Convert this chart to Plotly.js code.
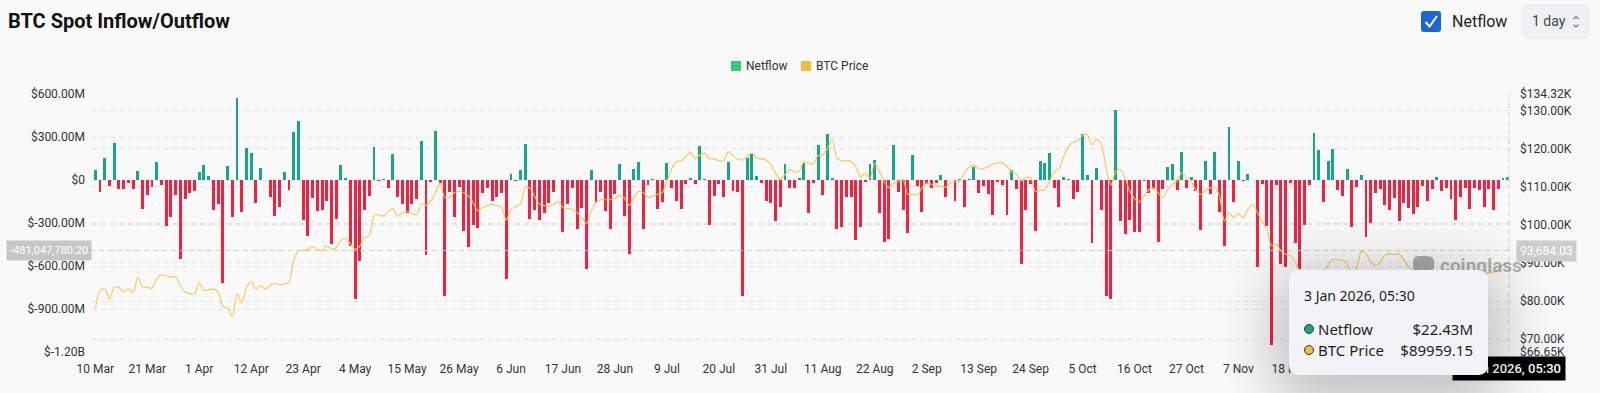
<!DOCTYPE html>
<html>
<head>
<meta charset="utf-8">
<script src="https://cdn.plot.ly/plotly-3.0.1.min.js"></script>
<style>
html,body{margin:0;padding:0;background:#f9f9f9;width:1600px;height:393px;overflow:hidden;}
#chart{position:absolute;left:0;top:0;width:1600px;height:393px;}
#tip{position:absolute;left:1289px;top:270px;width:199px;height:105px;background:#f2f3f6;border-radius:9px;
 box-shadow:0 14px 60px 14px rgba(0,0,0,0.24);font-family:"Noto Sans",Roboto,sans-serif;color:#1e1e1e;z-index:5;}
#tip .date{position:absolute;left:15px;top:17px;font-size:14px;line-height:18px;}
#tip .row{position:absolute;left:15px;right:15px;height:20px;font-size:15px;line-height:20px;}
#tip .dot{position:absolute;left:0;top:5px;width:8px;height:8px;border-radius:50%;border:1.5px solid #333;}
#tip .lab{position:absolute;left:14px;top:0;}
#tip .val{position:absolute;right:0;top:0;}
</style>
</head>
<body>
<div id="chart"></div>
<div id="tip">
  <div class="date" id="tipDate"></div>
  <div class="row" style="top:49px"><span class="dot" id="dot1"></span><span class="lab" id="lab1"></span><span class="val" id="val1"></span></div>
  <div class="row" style="top:70px"><span class="dot" id="dot2"></span><span class="lab" id="lab2"></span><span class="val" id="val2"></span></div>
</div>
<script>
// ---------------- DATA ----------------
const startDate = [2025, 2, 10];           // 10 Mar 2025, one bar per day
const seriesNames = ['Netflow', 'BTC Price'];

// Daily netflow, $M
const netflowM = [
  69, -83, 155, -42, 259, -65, -60, -19, -60, 60,
  -204, -102, -46, 125, -32, -324, -255, -106, -553, -130,
  -88, -74, 58, 104, 25, -211, -167, -720, 97, -257,
  572, -225, 225, 190, -162, 86, 3, -116, -250, -188,
  58, -72, 336, 410, -278, -389, -127, -215, -208, -146,
  -449, -269, 104, 14, -458, -833, -563, -210, -111, 229,
  -9, 5, -58, 183, -116, -164, -229, -164, -130, 271,
  -523, -16, 340, -19, -808, -83, -255, -46, -357, -465,
  -313, -336, -88, -58, -146, -116, -90, -690, 44, -5,
  69, 252, -271, -208, -278, -229, -157, -81, -3, -366,
  -164, -58, -343, -197, -620, 72, -162, -81, -215, -343,
  -100, 111, -250, -519, 79, 123, -343, -37, 5, -199,
  -150, 118, -58, -144, -204, -28, 16, -25, 236, 9,
  -315, -109, -30, -116, 125, -79, -86, -810, 155, 190,
  28, -19, -148, -162, -287, -185, 113, -53, -53, 12,
  120, -227, -21, 241, -106, 324, 12, -345, -326, -116,
  -120, -417, -331, -14, 111, 139, -227, -435, -412, 245,
  -83, -211, -368, 176, -42, -222, -30, -58, -23, 37,
  -116, -3, -144, 9, -185, 9, 93, -93, -42, -95,
  -243, -14, -32, -245, 69, -60, -586, -211, -30, -354,
  134, 118, 185, -53, -188, 23, 9, -130, -83, 324,
  37, -442, 86, -208, -806, -829, 486, -285, -377, -280,
  -363, -363, -5, -88, -60, -435, -65, 90, 113, -72,
  194, -58, 23, -79, -347, 130, -95, 194, -220, -458,
  368, -150, 134, -9, 42, 2, -609, -30, -319, -1153,
  -37, -586, -609, -19, -440, -620, -313, -37, 329, 208,
  -150, 132, 218, -69, -113, 74, -331, -46, 35, -400,
  -303, -88, -60, -176, -208, -125, -287, -162, -194, -238,
  -188, -42, -146, -65, 21, -74, -53, -134, -280, -116,
  -53, -204, -58, -72, -188, -65, -208, -65, 14, 22.43
];

// Daily BTC price, $K
const priceK = [
  78.0, 82.8, 83.2, 80.6, 83.6, 83.6, 82.4, 83.2, 82.3, 86.3,
  83.8, 83.6, 83.4, 85.8, 86.9, 86.6, 86.3, 86.3, 84.1, 82.4,
  81.9, 81.9, 84.8, 82.8, 83.0, 83.2, 82.4, 78.5, 78.3, 75.9,
  81.9, 79.5, 83.6, 85.2, 83.2, 84.1, 83.2, 84.1, 84.7, 84.3,
  84.5, 85.0, 90.6, 93.2, 93.3, 93.6, 94.2, 93.6, 93.2, 94.5,
  93.6, 94.0, 96.0, 96.3, 95.0, 93.6, 94.5, 96.7, 97.1, 102.3,
  102.7, 102.3, 103.6, 104.2, 102.3, 103.2, 103.5, 103.0, 102.6, 105.5,
  105.1, 106.2, 108.4, 111.0, 107.1, 107.2, 108.4, 108.8, 108.4, 107.5,
  105.8, 103.6, 104.5, 105.1, 105.3, 105.1, 104.6, 101.2, 104.0, 104.8,
  105.5, 109.7, 109.7, 107.5, 105.5, 105.1, 104.8, 105.3, 106.2, 104.5,
  104.3, 104.0, 103.2, 101.9, 100.3, 103.6, 106.0, 106.6, 106.6, 106.6,
  106.9, 107.7, 107.1, 105.1, 107.1, 108.8, 108.4, 107.2, 107.5, 108.0,
  108.4, 111.4, 114.7, 116.6, 116.8, 117.9, 119.0, 117.3, 118.3, 118.8,
  117.4, 117.3, 116.8, 116.8, 119.2, 118.1, 117.3, 117.0, 117.9, 118.8,
  117.6, 117.3, 117.0, 115.8, 113.5, 111.9, 113.2, 114.5, 113.9, 114.0,
  116.6, 116.2, 115.9, 118.2, 118.3, 120.1, 122.5, 117.5, 116.8, 116.8,
  116.6, 115.3, 112.5, 113.6, 112.3, 116.2, 114.0, 111.4, 109.7, 111.0,
  111.4, 111.9, 108.0, 108.0, 107.8, 109.7, 111.0, 110.6, 110.1, 110.1,
  109.9, 111.0, 111.4, 111.4, 113.6, 115.1, 115.6, 114.7, 114.7, 115.3,
  115.9, 116.2, 116.3, 115.3, 114.0, 113.3, 111.6, 112.3, 112.4, 108.8,
  109.0, 109.2, 111.4, 114.0, 114.7, 117.9, 120.5, 121.7, 122.0, 123.5,
  123.7, 121.0, 122.5, 121.0, 114.9, 110.4, 114.0, 114.5, 112.3, 108.8,
  106.9, 106.0, 107.5, 109.2, 109.7, 108.4, 107.1, 109.2, 110.7, 111.4,
  113.8, 112.4, 111.4, 109.2, 108.0, 109.0, 109.7, 109.9, 107.5, 101.0,
  103.2, 101.9, 102.9, 101.9, 104.0, 105.4, 103.2, 101.0, 98.9, 94.5,
  94.9, 93.2, 92.3, 92.0, 90.3, 87.6, 85.0, 84.5, 84.8, 86.5,
  87.6, 89.5, 90.9, 90.8, 90.7, 89.8, 86.8, 88.6, 93.0, 92.4,
  90.3, 89.4, 90.3, 92.0, 92.4, 92.2, 92.4, 90.8, 89.0, 88.0,
  86.5, 86.0, 87.0, 86.3, 85.5, 87.8, 88.0, 87.6, 87.2, 87.0,
  87.3, 87.0, 87.2, 87.4, 87.1, 87.4, 87.6, 88.4, 89.6, 89.95915
];

const leftTickVals  = [600, 300, 0, -300, -600, -900, -1200];
const leftTickText  = ['$600.00M', '$300.00M', '$0', '$-300.00M', '$-600.00M', '$-900.00M', '$-1.20B'];
const rightTickVals = [134.32, 130, 120, 110, 100, 90, 80, 70, 66.65];
const rightTickText = ['$134.32K', '$130.00K', '$120.00K', '$110.00K', '$100.00K', '$90.00K', '$80.00K', '$70.00K', '$66.65K'];
const pointerLeftText  = '-481,047,780.20';
const pointerRightText = '93,684.03';
const hoverTime = '05:30';

// ---------------- STYLE ----------------
const GREEN = '#17a68a', RED = '#f5203f', LINE = '#f8c650';
const LEG_GREEN = '#35c97c', LEG_AMBER = '#f1bb40';
const FONT = 'Roboto, "Noto Sans", sans-serif';
const W = 1600, H = 393, ML = 92, MR = 89, MT = 94, MB = 41;
const PW = W - ML - MR, PH = H - MT - MB;
const X = px => (px - ML) / PW;
const Y = py => (H - MB - py) / PH;

// ---------------- BUILD ----------------
const DAY = 864e5;
const t0 = Date.UTC(startDate[0], startDate[1], startDate[2]);
const dates = netflowM.map((_, i) => new Date(t0 + i * DAY).toISOString().slice(0, 10));
const fmt = ms => new Date(ms).toISOString().slice(0, 16).replace('T', ' ');
const xRange = [fmt(t0 - 0.7 * DAY), fmt(t0 + (netflowM.length - 1 + 0.7) * DAY)];

const bars = {
  type: 'bar', x: dates, y: netflowM, name: seriesNames[0],
  marker: { color: netflowM.map(v => v >= 0 ? GREEN : RED) },
  width: 0.62 * DAY, hoverinfo: 'skip', showlegend: false
};
const price = {
  type: 'scatter', mode: 'lines', x: dates, y: priceK, yaxis: 'y2', name: seriesNames[1],
  line: { color: LINE, width: 1.1, shape: 'spline', smoothing: 0.7 },
  hoverinfo: 'skip', showlegend: false
};

function rrect(x0, y0, x1, y1, r) {
  const rx = r / PW, ry = r / PH;
  const a = X(x0), b = X(x1), c = Y(y0), d = Y(y1);
  return `M${a + rx},${c} L${b - rx},${c} Q${b},${c} ${b},${c - ry} L${b},${d + ry} Q${b},${d} ${b - rx},${d} ` +
         `L${a + rx},${d} Q${a},${d} ${a},${d + ry} L${a},${c - ry} Q${a},${c} ${a + rx},${c} Z`;
}
function poly(pts) { return 'M' + pts.map(p => X(p[0]) + ',' + Y(p[1])).join(' L'); }

const grid = { gridcolor: '#e1e1e1', griddash: '5px,4px', gridwidth: 1 };

const shapes = [
  // crosshair
  { type: 'line', xref: 'paper', yref: 'paper', x0: X(90), x1: X(1512), y0: Y(250.5), y1: Y(250.5),
    line: { color: '#cfcfcf', width: 1, dash: '5px,4px' } },
  { type: 'line', xref: 'paper', yref: 'paper', x0: X(1509), x1: X(1509), y0: Y(94), y1: Y(352),
    line: { color: '#cfcfcf', width: 1, dash: '5px,4px' } },
  // legend squares
  { type: 'rect', xref: 'paper', yref: 'paper', x0: X(731), x1: X(741), y0: Y(61), y1: Y(71), fillcolor: LEG_GREEN, line: { width: 0 } },
  { type: 'rect', xref: 'paper', yref: 'paper', x0: X(801), x1: X(811), y0: Y(61), y1: Y(71), fillcolor: LEG_AMBER, line: { width: 0 } },
  // checkbox
  { type: 'path', xref: 'paper', yref: 'paper', path: rrect(1421, 11, 1441, 32, 3), fillcolor: '#1867d3', line: { width: 0 } },
  { type: 'path', xref: 'paper', yref: 'paper', path: poly([[1425.5, 22], [1429.5, 26.5], [1437, 16]]), line: { color: '#ffffff', width: 2 } },
  // 1 day selector
  { type: 'path', xref: 'paper', yref: 'paper', path: rrect(1522, 5, 1589, 38, 6), fillcolor: '#eff0f2', line: { color: '#e7e8eb', width: 1 } },
  { type: 'path', xref: 'paper', yref: 'paper', path: poly([[1573.5, 19], [1576, 16.5], [1578.5, 19]]), line: { color: '#777', width: 1.1 } },
  { type: 'path', xref: 'paper', yref: 'paper', path: poly([[1573.5, 24.5], [1576, 27], [1578.5, 24.5]]), line: { color: '#777', width: 1.1 } },
  // watermark logo
  { type: 'path', xref: 'paper', yref: 'paper', path: rrect(1413, 256, 1434, 272, 6), fillcolor: 'rgba(120,120,120,0.6)', line: { width: 0 } }
];

const ann = (text, px, py, opts) => Object.assign({
  text, xref: 'paper', yref: 'paper', x: X(px), y: Y(py), showarrow: false,
  xanchor: 'left', yanchor: 'middle', font: { family: FONT, size: 12, color: '#333' }
}, opts || {});

const annotations = [
  ann(seriesNames[0], 744, 66),
  ann(seriesNames[1], 814, 66),
  ann('Netflow', 1450, 21.5, { font: { family: FONT, size: 16, color: '#222' } }),
  ann('1 day', 1530, 21.5, { font: { family: FONT, size: 14, color: '#444' } }),
  ann('coinglass', 1438, 265, { font: { family: FONT, size: 19, color: 'rgba(130,130,130,0.6)', weight: 700 } }),
  ann(pointerLeftText, 49, 250.5, { xanchor: 'center', bgcolor: '#c6c6c6', borderpad: 3,
    font: { family: FONT, size: 11, color: '#ffffff' } }),
  ann(pointerRightText, 1546, 250.5, { xanchor: 'center', bgcolor: '#cdcdcd', borderpad: 3,
    font: { family: FONT, size: 12, color: '#ffffff' } })
];

// bottom pointer label
const last = netflowM.length - 1;
const lastDate = new Date(t0 + last * DAY);
const months = ['Jan','Feb','Mar','Apr','May','Jun','Jul','Aug','Sep','Oct','Nov','Dec'];
const hoverLabel = `${lastDate.getUTCDate()} ${months[lastDate.getUTCMonth()]} ${lastDate.getUTCFullYear()}, ${hoverTime}`;
annotations.push(ann(hoverLabel, 1509, 368, { xanchor: 'center', bgcolor: '#000000', borderpad: 4,
  font: { family: FONT, size: 13, color: '#ffffff', weight: 500 } }));

const layout = {
  width: W, height: H,
  paper_bgcolor: '#f9f9f9', plot_bgcolor: '#f9f9f9',
  margin: { l: ML, r: MR, t: MT, b: MB, pad: 0 },
  title: { text: 'BTC Spot Inflow/Outflow', xref: 'container', yref: 'container', x: 8 / W, xanchor: 'left',
           y: 1 - 21 / H, yanchor: 'middle', font: { family: FONT, size: 20, weight: 700, color: '#111' } },
  showlegend: false,
  bargap: 0,
  xaxis: {
    type: 'date', range: xRange, tick0: dates[0], dtick: 11 * DAY, tickformat: '%-d %b',
    showgrid: false, zeroline: false, showline: false, ticks: '',
    tickfont: { family: FONT, size: 12, color: '#333' }, ticklabelstandoff: 8, fixedrange: true
  },
  yaxis: Object.assign({
    range: [-1200, 600], tickvals: leftTickVals, ticktext: leftTickText, showgrid: true,
    zeroline: false, showline: false, ticks: '', ticklabelstandoff: 6,
    tickfont: { family: FONT, size: 12, color: '#333' }
  }, grid),
  yaxis2: Object.assign({
    overlaying: 'y', side: 'right', range: [66.65, 134.32], tickvals: rightTickVals, ticktext: rightTickText,
    showgrid: true, zeroline: false, showline: false, ticks: '', ticklabelstandoff: 8,
    tickfont: { family: FONT, size: 12, color: '#333' }
  }, grid),
  shapes, annotations
};

Plotly.newPlot('chart', [bars, price], layout, { displayModeBar: false, staticPlot: true });

// tooltip (hover state of the last point)
document.getElementById('tipDate').textContent = hoverLabel;
document.getElementById('lab1').textContent = seriesNames[0];
document.getElementById('lab2').textContent = seriesNames[1];
document.getElementById('val1').textContent = '$' + netflowM[last].toFixed(2) + 'M';
document.getElementById('val2').textContent = '$' + (priceK[last] * 1000).toFixed(2);
document.getElementById('dot1').style.background = GREEN;
document.getElementById('dot2').style.background = LEG_AMBER;
</script>
</body>
</html>
